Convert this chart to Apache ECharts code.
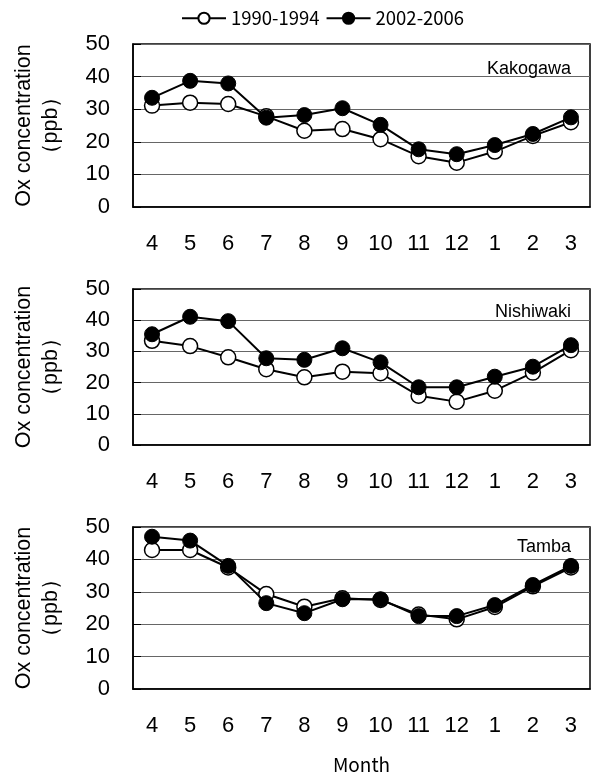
<!DOCTYPE html>
<html>
<head>
<meta charset="utf-8">
<script src="https://cdn.jsdelivr.net/npm/echarts@6/dist/echarts.min.js"></script>
<style>
  html, body { margin: 0; padding: 0; background: #fff; }
  #chart { width: 598px; height: 776px; }
</style>
</head>
<body>
<div id="chart"></div>
<script>
  // months, April to March
  var months = ['4', '5', '6', '7', '8', '9', '10', '11', '12', '1', '2', '3'];
  var stations = ['Kakogawa', 'Nishiwaki', 'Tamba'];

  // Ox concentration (ppb)
  var kakogawa9094 = [31.1, 32.0, 31.6, 27.8, 23.4, 23.9, 20.8, 15.6, 13.6, 17.0, 21.8, 26.0];
  var kakogawa0206 = [33.5, 38.7, 37.9, 27.4, 28.2, 30.3, 25.2, 17.7, 16.2, 19.0, 22.4, 27.5];
  var nishiwaki9094 = [33.4, 31.7, 28.1, 24.3, 21.7, 23.5, 23.0, 15.8, 13.9, 17.4, 23.2, 30.4];
  var nishiwaki0206 = [35.5, 41.1, 39.7, 27.8, 27.3, 31.0, 26.5, 18.5, 18.5, 21.9, 25.1, 32.0];
  var tamba9094 = [42.9, 42.9, 37.5, 29.3, 25.4, 28.0, 27.5, 23.0, 21.5, 25.3, 31.7, 37.5];
  var tamba0206 = [47.0, 45.8, 38.0, 26.5, 23.4, 27.7, 27.7, 22.5, 22.5, 25.9, 32.1, 38.0];

  var oldData = [kakogawa9094, nishiwaki9094, tamba9094];
  var newData = [kakogawa0206, nishiwaki0206, tamba0206];

  var gridTops = [44, 289, 527];
  var gridHeights = [163, 156, 162];
  var labelTops = [55, 298, 533];

  var numFont = '"Liberation Sans", Arial, sans-serif';

  var grids = [], xAxes = [], yAxes = [], series = [], titles = [];
  for (var i = 0; i < 3; i++) {
    grids.push({
      left: 133, right: 8, top: gridTops[i], height: gridHeights[i],
      outerBoundsMode: 'none', containLabel: false,
      show: true, borderColor: '#000', borderWidth: 1.5, backgroundColor: 'transparent'
    });
    xAxes.push({
      type: 'category', gridIndex: i, data: months, boundaryGap: true,
      axisLine: { lineStyle: { color: '#000', width: 1.5 } },
      axisTick: { inside: true, length: 8, lineStyle: { color: '#000' } },
      axisLabel: { color: '#000', fontSize: 22, fontFamily: numFont, margin: 26 },
      name: i === 2 ? 'Month' : '',
      nameLocation: 'middle', nameGap: 66,
      nameTextStyle: { color: '#000', fontSize: 19, fontFamily: '"Noto Sans CJK JP", sans-serif' }
    });
    yAxes.push({
      type: 'value', gridIndex: i, min: 0, max: 50, interval: 10,
      axisLine: { show: true, lineStyle: { color: '#000', width: 1.5 } },
      axisTick: { show: true, inside: true, length: 8, lineStyle: { color: '#000' } },
      axisLabel: { color: '#000', fontSize: 22, fontFamily: numFont, margin: 23 },
      splitLine: { lineStyle: { color: '#666', width: 1.2 } },
      name: 'Ox concentration\n（ppb）',
      nameLocation: 'middle', nameRotate: 90, nameGap: 68,
      nameTextStyle: { color: '#000', fontSize: 21.5, lineHeight: 27, fontFamily: numFont }
    });
    series.push({
      name: '1990-1994', type: 'line', xAxisIndex: i, yAxisIndex: i,
      data: oldData[i], symbol: 'circle', symbolSize: 15,
      lineStyle: { color: '#000', width: 2 },
      itemStyle: { color: '#fff', borderColor: '#000', borderWidth: 1.5 },
      z: 2
    });
    series.push({
      name: '2002-2006', type: 'line', xAxisIndex: i, yAxisIndex: i,
      data: newData[i], symbol: 'circle', symbolSize: 15,
      lineStyle: { color: '#000', width: 2 },
      itemStyle: { color: '#000', borderColor: '#000', borderWidth: 1 },
      z: 3
    });
    titles.push({
      text: stations[i], right: 22, top: labelTops[i],
      textStyle: { color: '#000', fontSize: 18, fontWeight: 'normal', fontFamily: numFont }
    });
  }

  var chart = echarts.init(document.getElementById('chart'), null, { renderer: 'canvas' });
  chart.setOption({
    animation: false,
    backgroundColor: '#fff',
    title: titles,
    legend: {
      top: 4, left: 176,
      itemWidth: 44, itemHeight: 14, itemGap: 6,
      textStyle: { color: '#000', fontSize: 18.5, fontFamily: '"Noto Sans CJK JP", sans-serif' },
      data: ['1990-1994', '2002-2006']
    },
    grid: grids,
    xAxis: xAxes,
    yAxis: yAxes,
    series: series
  });
</script>
</body>
</html>
